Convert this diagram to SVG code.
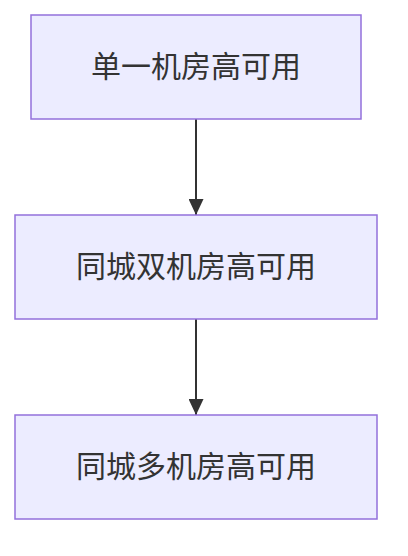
<svg xmlns="http://www.w3.org/2000/svg" width="408" height="556" viewBox="0 0 408 556">
<style>
.node rect{fill:#ECECFF;stroke:#9370DB;stroke-width:1.5}
.node text{font-family:"Noto Sans CJK SC","Liberation Sans",sans-serif;font-size:30px;fill:#333;text-anchor:middle;dominant-baseline:central}
.edge{stroke:#333;stroke-width:2;fill:none}
</style>
<defs>
<marker id="arrow" viewBox="0 0 16 15" refX="16" refY="7.5" markerWidth="16" markerHeight="15" markerUnits="userSpaceOnUse" orient="auto">
<path d="M0,0 L16,7.5 L0,15 z" fill="#333"/>
</marker>
</defs>
<rect width="408" height="556" fill="#fff"/>
<g id="connectors">
<path class="edge" d="M196,119 L196,215" marker-end="url(#arrow)"/>
<path class="edge" d="M196,319 L196,415" marker-end="url(#arrow)"/>
</g>
<g id="n1" class="node"><rect x="31" y="15" width="330" height="104"/><text x="196" y="64">单一机房高可用</text></g>
<g id="n2" class="node"><rect x="15" y="215" width="362" height="104"/><text x="196" y="264">同城双机房高可用</text></g>
<g id="n3" class="node"><rect x="15" y="415" width="362" height="104"/><text x="196" y="464">同城多机房高可用</text></g>
</svg>
